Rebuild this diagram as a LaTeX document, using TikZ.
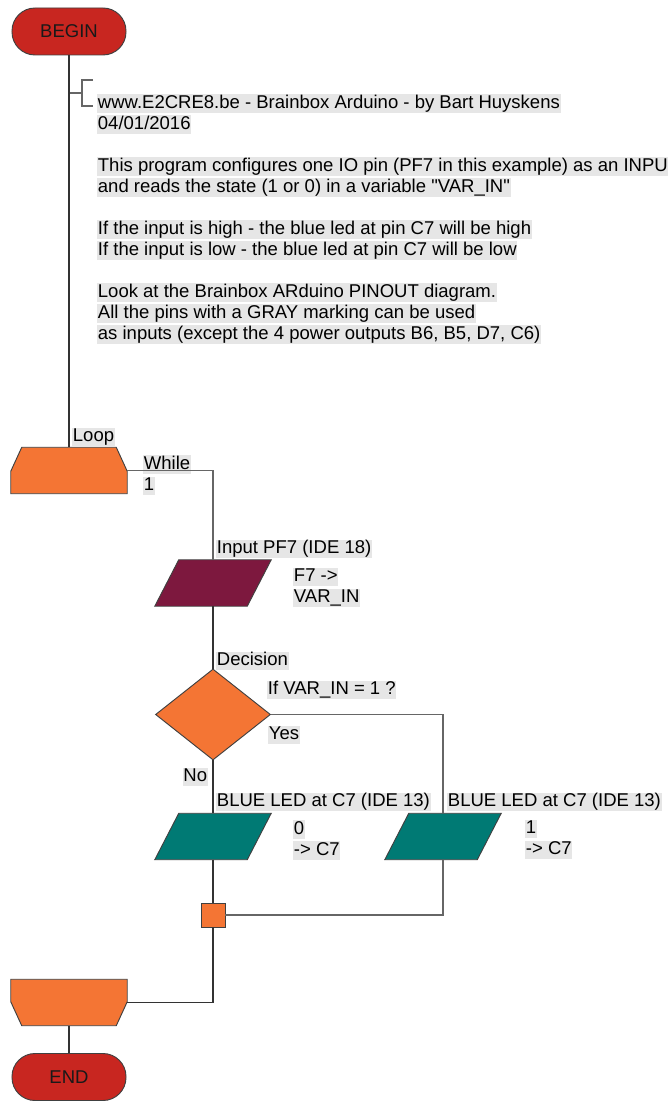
\documentclass[tikz,border=0pt]{standalone}
\usepackage{fontspec}
\setmainfont{Liberation Sans}
\usetikzlibrary{shapes.geometric, calc}

\definecolor{termred}{RGB}{200,38,32}
\definecolor{looporange}{RGB}{244,117,52}
\definecolor{inmaroon}{RGB}{125,24,62}
\definecolor{outteal}{RGB}{0,122,116}
\definecolor{hlgray}{RGB}{230,230,230}
\newcommand{\hl}[1]{{\setlength{\fboxsep}{0.6pt}\colorbox{hlgray}{\vphantom{Ag}#1}}}

\begin{document}
\begin{tikzpicture}[
  x=0.03cm, y=-0.03cm,
  every node/.style={font=\fontsize{15.8}{17.9}\selectfont},
  term/.style={rectangle, rounded corners=0.69cm, draw=black!75, line width=0.8pt,
               fill=termred, minimum width=3.42cm, minimum height=1.41cm, text=black!90},
  loopbox/.style={rectangle, minimum width=3.48cm, minimum height=1.38cm, inner sep=0pt},
  loopshape/.style={draw=black!75, line width=0.8pt, fill=looporange},
  iobox/.style={rectangle, minimum width=3.48cm, minimum height=1.38cm, inner sep=0pt},
  ioshape/.style={draw=black!75, line width=0.8pt},
  decide/.style={diamond, draw=black!75, line width=0.8pt, fill=looporange,
                 minimum width=3.45cm, minimum height=2.73cm, inner sep=0pt},
  joint/.style={rectangle, draw=black!75, line width=0.8pt, fill=looporange,
                minimum size=0.72cm, inner sep=0pt},
  lbl/.style={inner sep=0pt, anchor=west, align=left},
  wire/.style={draw=black!80, line width=0.9pt},
  wireside/.style={draw=black!60, line width=1.3pt},
  bracket/.style={draw=black!60, line width=1.8pt}
]
  \useasboundingbox (0,0) rectangle (667,1102);

  % terminals
  \node[term] (begin) at (69,31.5) {BEGIN};
  \node[term] (stop) at (69,1077) {END};

  % loop start / loop end
  \node[loopbox] (loop) at (69,470.5) {};
  \draw[loopshape] ($(loop.north west)+(11,0)$) -- ($(loop.north east)+(-11,0)$)
    -- ($(loop.north east)+(0,24)$) -- (loop.south east) -- (loop.south west)
    -- ($(loop.north west)+(0,24)$) -- cycle;
  \node[loopbox] (loopend) at (69,1002.5) {};
  \draw[loopshape] (loopend.north west) -- (loopend.north east)
    -- ($(loopend.south east)+(0,-24)$) -- ($(loopend.south east)+(-11,0)$)
    -- ($(loopend.south west)+(11,0)$) -- ($(loopend.south west)+(0,-24)$) -- cycle;

  % input / output blocks
  \node[iobox] (inp) at (213,583) {};
  \node[iobox] (ledoff) at (213,836.5) {};
  \node[iobox] (ledon) at (443,836.5) {};
  \foreach \blk/\col in {inp/inmaroon, ledoff/outteal, ledon/outteal}
    \draw[ioshape, fill=\col] ($(\blk.north west)+(24,0)$) -- (\blk.north east)
      -- ($(\blk.south east)+(-24,0)$) -- (\blk.south west) -- cycle;
  \node[decide] (dec) at (213,714.5) {};
  \node[joint] (merge) at (213,915) {};

  % comment
  \coordinate (notejoin) at (69,93);
  \coordinate (notetip) at (82,93);
  \draw[bracket] (notejoin) -- (notetip);
  \draw[bracket] (93,80) -| (82,106) -- (93,106);
  \node[lbl, anchor=north west] (note) at (97,94.2)
    {\hl{www.E2CRE8.be - Brainbox Arduino - by Bart Huyskens}\\
     \hl{04/01/2016}\\[17.9pt]
     \hl{This program configures one IO pin (PF7 in this example) as an INPUT}\\
     \hl{and reads the state (1 or 0) in a variable \textquotedbl VAR\_IN\textquotedbl}\\[17.9pt]
     \hl{If the input is high - the blue led at pin C7 will be high}\\
     \hl{If the input is low - the blue led at pin C7 will be low}\\[17.9pt]
     \hl{Look at the Brainbox ARduino PINOUT diagram.}\\
     \hl{All the pins with a GRAY marking can be used}\\
     \hl{as inputs (except the 4 power outputs B6, B5, D7, C6)}};

  % labels
  \node[lbl] (looplbl) at (72,437) {\hl{Loop}};
  \node[lbl, anchor=north west] (whilelbl) at (143,455.2) {\hl{While}\\\hl{1}};
  \node[lbl] (inplbl) at (216,549) {\hl{Input PF7 (IDE 18)}};
  \node[lbl, anchor=north west] (inpval) at (293,568.2) {\hl{F7 ->}\\\hl{VAR\_IN}};
  \node[lbl] (declbl) at (216,661) {\hl{Decision}};
  \node[lbl] (decq) at (267,690) {\hl{If VAR\_IN = 1 ?}};
  \node[lbl] (yeslbl) at (268,735) {\hl{Yes}};
  \node[lbl, anchor=east] (nolbl) at (208,777) {\hl{No}};
  \node[lbl] (offlbl) at (216,802) {\hl{BLUE LED at C7 (IDE 13)}};
  \node[lbl] (onlbl) at (447,802) {\hl{BLUE LED at C7 (IDE 13)}};
  \node[lbl, anchor=north west] (offval) at (293,820.2) {\hl{0}\\\hl{-> C7}};
  \node[lbl, anchor=north west] (onval) at (525,820.2) {\hl{1}\\\hl{-> C7}};

  % connectors
  \draw[wire] (begin.south) -- (loop.north);
  \draw[wireside] (loop.east) -| (inp.north);
  \draw[wire] (inp.south) -- (dec.north);
  \draw[wire] (dec.south) -- (ledoff.north);
  \draw[wireside] (dec.east) -| (ledon.north);
  \draw[wire] (ledoff.south) -- (merge.north);
  \draw[wireside] (ledon.south) |- (merge.east);
  \draw[wire] (merge.south) |- (loopend.east);
  \draw[wire] (loopend.south) -- (stop.north);
\end{tikzpicture}
\end{document}
